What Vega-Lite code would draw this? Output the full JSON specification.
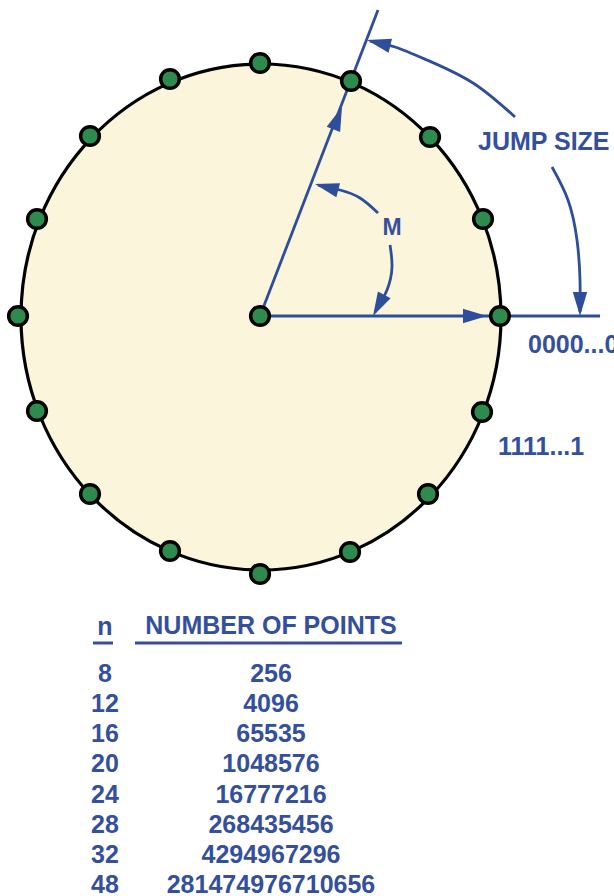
{
  "$schema": "https://vega.github.io/schema/vega-lite/v6.json",
  "width": 614,
  "height": 896,
  "autosize": {"type": "none"},
  "padding": 0,
  "background": "white",
  "config": {"view": {"stroke": null}},
  "datasets": {
    "ellipse": [{"x": 261, "y": 317}],
    "dots": [
      {"x": 500, "y": 316}, {"x": 483, "y": 219}, {"x": 430, "y": 137}, {"x": 351, "y": 81},
      {"x": 260, "y": 63}, {"x": 170, "y": 79}, {"x": 90, "y": 136}, {"x": 37, "y": 219},
      {"x": 18, "y": 316}, {"x": 37, "y": 411}, {"x": 90, "y": 494}, {"x": 170, "y": 551},
      {"x": 260, "y": 574}, {"x": 350, "y": 552}, {"x": 428, "y": 494}, {"x": 482, "y": 412},
      {"x": 260, "y": 316}
    ],
    "segs": [
      {"x": 260, "y": 316, "x2": 600, "y2": 316},
      {"x": 260, "y": 316, "x2": 378, "y2": 10}
    ],
    "curves": [
      {"id": "m1", "k": 0, "x": 378, "y": 213}, {"id": "m1", "k": 1, "x": 360, "y": 198},
      {"id": "m1", "k": 2, "x": 340, "y": 190}, {"id": "m1", "k": 3, "x": 318, "y": 185},
      {"id": "m2", "k": 0, "x": 390, "y": 245}, {"id": "m2", "k": 1, "x": 392, "y": 267},
      {"id": "m2", "k": 2, "x": 387, "y": 290}, {"id": "m2", "k": 3, "x": 375, "y": 312},
      {"id": "j1", "k": 0, "x": 515, "y": 117}, {"id": "j1", "k": 1, "x": 473, "y": 83},
      {"id": "j1", "k": 2, "x": 427, "y": 60}, {"id": "j1", "k": 3, "x": 395, "y": 47},
      {"id": "j1", "k": 4, "x": 370, "y": 41},
      {"id": "j2", "k": 0, "x": 552, "y": 167}, {"id": "j2", "k": 1, "x": 568, "y": 200},
      {"id": "j2", "k": 2, "x": 577, "y": 240}, {"id": "j2", "k": 3, "x": 580, "y": 280},
      {"id": "j2", "k": 4, "x": 580, "y": 312}
    ],
    "heads": [
      {"x": 487, "y": 316, "dir": 0},
      {"x": 342, "y": 107, "dir": 291},
      {"x": 315, "y": 184, "dir": 195},
      {"x": 373, "y": 316, "dir": 118},
      {"x": 367, "y": 40, "dir": 194},
      {"x": 580, "y": 316, "dir": 90}
    ],
    "labels": [
      {"x": 478, "y": 150, "t": "JUMP SIZE"},
      {"x": 528, "y": 353, "t": "0000...0"},
      {"x": 498, "y": 455, "t": "1111...1"}
    ],
    "mlabel": [{"x": 392, "y": 235, "t": "M"}],
    "table": [
      {"x": 105, "y": 635, "t": "n"},
      {"x": 271, "y": 634, "t": "NUMBER OF POINTS"},
      {"x": 105, "y": 682, "t": "8"}, {"x": 271, "y": 682, "t": "256"},
      {"x": 105, "y": 712, "t": "12"}, {"x": 271, "y": 712, "t": "4096"},
      {"x": 105, "y": 742, "t": "16"}, {"x": 271, "y": 742, "t": "65535"},
      {"x": 105, "y": 772, "t": "20"}, {"x": 271, "y": 772, "t": "1048576"},
      {"x": 105, "y": 803, "t": "24"}, {"x": 271, "y": 803, "t": "16777216"},
      {"x": 105, "y": 833, "t": "28"}, {"x": 271, "y": 833, "t": "268435456"},
      {"x": 105, "y": 863, "t": "32"}, {"x": 271, "y": 863, "t": "4294967296"},
      {"x": 105, "y": 893, "t": "48"}, {"x": 271, "y": 893, "t": "281474976710656"}
    ],
    "underlines": [
      {"x": 93, "x2": 113, "y": 643},
      {"x": 135, "x2": 402, "y": 643}
    ]
  },
  "encoding": {
    "x": {"field": "x", "type": "quantitative", "scale": {"domain": [0, 614], "nice": false, "zero": false}, "axis": null},
    "y": {"field": "y", "type": "quantitative", "scale": {"domain": [0, 896], "nice": false, "zero": false, "reverse": true}, "axis": null}
  },
  "layer": [
    {
      "data": {"name": "ellipse"},
      "mark": {
        "type": "point",
        "shape": "M1,0C1,0.5823 0.5523,1.0542 0,1.0542C-0.5523,1.0542 -1,0.5823 -1,0C-1,-0.5823 -0.5523,-1.0542 0,-1.0542C0.5523,-1.0542 1,-0.5823 1,0Z",
        "size": 230400,
        "fill": "#FBF6DB",
        "stroke": "#000000",
        "strokeWidth": 3.2,
        "opacity": 1,
        "fillOpacity": 1
      }
    },
    {
      "data": {"name": "segs"},
      "mark": {"type": "rule", "color": "#2E4D9B", "strokeWidth": 2.8},
      "encoding": {"x2": {"field": "x2"}, "y2": {"field": "y2"}}
    },
    {
      "data": {"name": "curves"},
      "mark": {"type": "line", "color": "#2E4D9B", "strokeWidth": 2.8, "interpolate": "natural"},
      "encoding": {"detail": {"field": "id"}, "order": {"field": "k", "type": "quantitative"}}
    },
    {
      "data": {"name": "heads"},
      "mark": {"type": "point", "shape": "M0,0L-2,-0.6L-2,0.6Z", "size": 576, "filled": true, "color": "#2E4D9B", "opacity": 1, "strokeWidth": 0},
      "encoding": {"angle": {"field": "dir", "type": "quantitative", "scale": {"domain": [0, 360], "range": [0, 360]}}}
    },
    {
      "data": {"name": "dots"},
      "mark": {"type": "point", "shape": "circle", "size": 350, "fill": "#2E8B4E", "stroke": "#000000", "strokeWidth": 3.5, "opacity": 1, "fillOpacity": 1}
    },
    {
      "data": {"name": "labels"},
      "mark": {"type": "text", "align": "left", "baseline": "alphabetic", "font": "Liberation Sans", "fontWeight": "bold", "fontSize": 25, "color": "#34509C"},
      "encoding": {"text": {"field": "t"}}
    },
    {
      "data": {"name": "mlabel"},
      "mark": {"type": "text", "align": "center", "baseline": "alphabetic", "font": "Liberation Sans", "fontWeight": "bold", "fontSize": 23, "color": "#34509C"},
      "encoding": {"text": {"field": "t"}}
    },
    {
      "data": {"name": "table"},
      "mark": {"type": "text", "align": "center", "baseline": "alphabetic", "font": "Liberation Sans", "fontWeight": "bold", "fontSize": 25, "color": "#34509C"},
      "encoding": {"text": {"field": "t"}}
    },
    {
      "data": {"name": "underlines"},
      "mark": {"type": "rule", "color": "#34509C", "strokeWidth": 3},
      "encoding": {"x2": {"field": "x2"}}
    }
  ]
}
